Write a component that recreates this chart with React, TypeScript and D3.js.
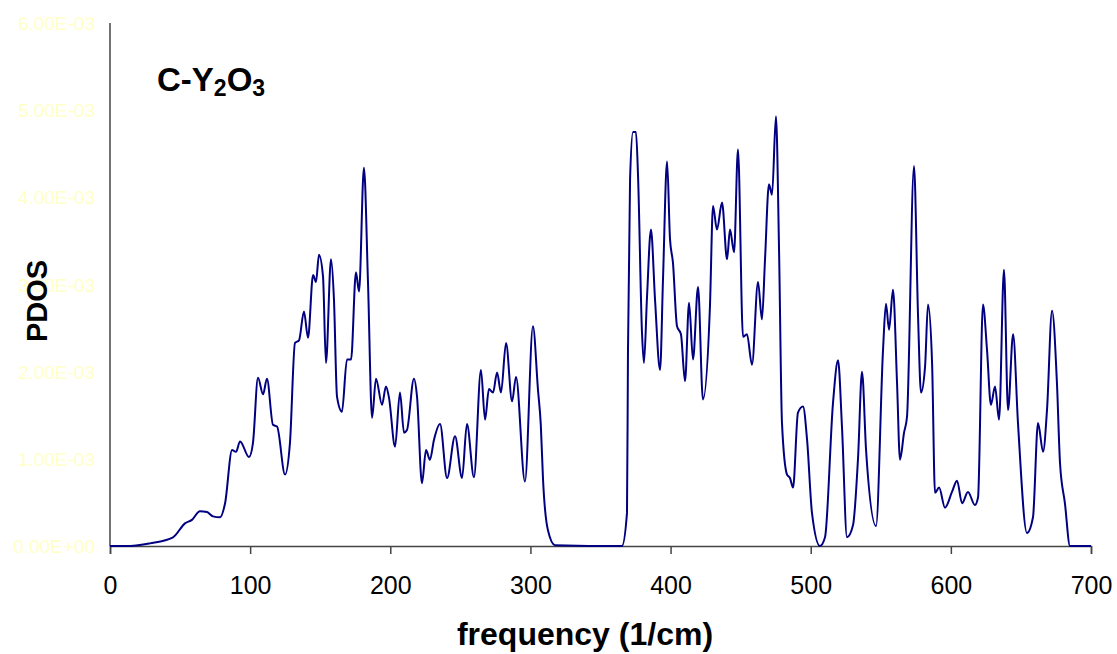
import React, { useEffect, useRef } from 'react';
import * as d3 from 'd3';

// frequency (1/cm) and PDOS values
const frequency = [
  0, 14.3, 28.5, 45.0, 53.5, 58.5, 64.2, 69.2, 73.5, 78.5, 82.1, 87.1, 89.9, 92.8, 99.2,
  102.0, 105.6, 109.2, 112.0, 116.3, 119.2, 124.9, 128.4, 132.0, 134.9, 138.4, 141.3,
  144.9, 147.0, 149.1, 152.0, 154.1, 157.7, 159.8, 162.0, 165.5, 169.1, 172.0, 175.5,
  177.7, 181.2, 184.1, 187.0, 189.8, 194.1, 196.9, 199.1, 203.4, 206.9, 209.8, 211.9,
  216.9, 219.1, 222.6, 225.5, 228.3, 231.2, 235.5, 240.5, 246.2, 251.2, 254.7, 259.7,
  264.7, 267.6, 270.4, 273.3, 276.2, 279.0, 282.6, 286.9, 289.7, 296.1, 301.8, 305.4,
  307.4, 309.0, 312.5, 317.5, 365.3, 368.9, 369.6, 371.1, 373.2, 375.3, 376.8, 379.6,
  381.0, 383.2, 386.0, 388.9, 392.5, 394.6, 397.5, 399.6, 401.7, 404.6, 407.4, 410.3,
  413.2, 416.0, 419.6, 423.1, 428.1, 430.3, 433.1, 436.7, 440.3, 442.4, 445.3, 448.1,
  451.7, 454.5, 458.1, 462.4, 465.2, 467.4, 470.2, 472.4, 475.2, 477.4, 479.5, 483.1,
  485.2, 487.4, 490.9, 494.5, 497.4, 500.9, 506.6, 510.2, 515.9, 519.5, 522.3, 525.9,
  530.2, 533.8, 536.6, 539.5, 546.6, 551.6, 553.7, 555.9, 558.7, 561.6, 563.7, 566.6,
  568.7, 573.7, 576.6, 578.7, 581.6, 583.7, 586.6, 588.7, 591.6, 595.8, 600.8, 604.4,
  608.0, 612.2, 617.2, 619.4, 622.9, 625.8, 628.6, 631.5, 634.4, 637.9, 640.8, 644.4,
  647.9, 654.3, 658.6, 662.2, 665.8, 668.6, 672.2, 675.7, 677.9, 681.4, 685.0, 700
];

const pdos = [
  0, 0, 0.03, 0.10, 0.26, 0.30, 0.40, 0.39, 0.34, 0.33, 0.49, 1.10, 1.08, 1.20, 1.02,
  1.18, 1.93, 1.74, 1.92, 1.39, 1.37, 0.82, 1.18, 2.33, 2.36, 2.69, 2.39,
  3.11, 3.03, 3.34, 3.09, 2.10, 3.29, 2.83, 1.71, 1.54, 2.14, 2.14, 3.14,
  2.92, 4.34, 3.02, 1.47, 1.92, 1.62, 1.83, 1.70, 1.14, 1.76, 1.30, 1.33,
  1.92, 1.71, 0.72, 1.10, 0.99, 1.22, 1.40, 0.78, 1.26, 0.78, 1.40, 0.79,
  2.02, 1.45, 1.80, 1.76, 1.99, 1.76, 2.33, 1.66, 1.94, 0.74, 2.52, 1.79,
  1.39, 0.76, 0.18, 0.01, 0, 0.38, 2.22, 4.21, 4.75, 4.75, 4.24, 2.45,
  2.10, 2.86, 3.63, 2.83, 2.02, 3.06, 4.41, 3.52, 3.25, 2.52, 2.43, 1.89,
  2.79, 2.14, 2.97, 1.68, 2.75, 3.90, 3.63, 3.94, 3.29, 3.63, 3.37, 4.55,
  2.40, 2.43, 2.08, 3.03, 2.60, 3.29, 4.15, 4.03, 4.93, 3.40, 1.41, 0.82,
  0.78, 0.67, 1.53, 1.60, 1.22, 0.38, 0.00, 0.10, 1.64, 2.13, 1.37, 0.10,
  0.24, 1.02, 2.00, 1.10, 0.23, 2.25, 2.78, 2.48, 2.94, 1.87, 0.99, 1.30,
  1.48, 4.36, 2.63, 1.76, 2.06, 2.77, 2.10, 0.61, 0.67, 0.44, 0.62, 0.75,
  0.49, 0.62, 0.47, 0.56, 2.77, 2.25, 1.62, 1.83, 1.45, 3.17, 1.56, 2.43,
  1.41, 0.15, 0.33, 1.41, 1.08, 1.56, 2.70, 1.87, 0.95, 0.49, 0, 0
].map((v) => v * 1e-3);

const xTicks = [0, 100, 200, 300, 400, 500, 600, 700];
const yTicks = [0, 0.001, 0.002, 0.003, 0.004, 0.005, 0.006];
const yTickLabels = ['0.00E+00', '1.00E-03', '2.00E-03', '3.00E-03', '4.00E-03', '5.00E-03', '6.00E-03'];

const W = 1117;
const H = 654;
const left = 110;
const right = 1091;
const top = 23;
const bottom = 546;
const font = 'Liberation Sans, Arial, sans-serif';

const App = () => {
  const svgRef = useRef(null);

  useEffect(() => {
    const svg = d3.select(svgRef.current);
    svg.selectAll('*').remove();

    const x = d3.scaleLinear().domain([0, 700]).range([left, right]);
    const y = d3.scaleLinear().domain([0, 0.006]).range([bottom, top]);

    // y tick labels (very pale in the original)
    svg.append('g')
      .selectAll('text')
      .data(yTicks)
      .enter()
      .append('text')
      .attr('x', 95)
      .attr('y', (d) => y(d) + 7)
      .attr('text-anchor', 'end')
      .attr('font-family', font)
      .attr('font-size', 19)
      .attr('fill', '#ffffc8')
      .text((d, i) => yTickLabels[i]);

    // x axis
    const xAxis = svg.append('g')
      .attr('transform', 'translate(0,' + bottom + ')')
      .call(d3.axisBottom(x).tickValues(xTicks).tickSize(8).tickFormat(d3.format('d')));
    xAxis.select('.domain').attr('stroke', '#444').attr('stroke-width', 1.5);
    xAxis.selectAll('.tick line').attr('stroke', '#444').attr('stroke-width', 1.5);
    xAxis.selectAll('.tick text')
      .attr('font-family', font)
      .attr('font-size', 25)
      .attr('fill', '#000')
      .attr('y', 48)
      .attr('dy', 0);

    // y axis line
    svg.append('line')
      .attr('x1', left).attr('x2', left)
      .attr('y1', top).attr('y2', bottom)
      .attr('stroke', '#444')
      .attr('stroke-width', 1.5);

    const line = d3.line()
      .x((d, i) => x(frequency[i]))
      .y((d) => y(d))
      .curve(d3.curveMonotoneX);

    svg.append('path')
      .datum(pdos)
      .attr('fill', 'none')
      .attr('stroke', '#000080')
      .attr('stroke-width', 2)
      .attr('d', line);

    // title
    const title = svg.append('text')
      .attr('x', 157)
      .attr('y', 91)
      .attr('font-family', font)
      .attr('font-weight', 'bold')
      .attr('font-size', 33)
      .attr('fill', '#000');
    title.append('tspan').text('C-Y');
    title.append('tspan').attr('font-size', 23).attr('dy', 5).text('2');
    title.append('tspan').attr('dy', -5).text('O');
    title.append('tspan').attr('font-size', 23).attr('dy', 5).text('3');

    svg.append('text')
      .attr('x', 585)
      .attr('y', 645)
      .attr('text-anchor', 'middle')
      .attr('font-family', font)
      .attr('font-weight', 'bold')
      .attr('font-size', 32)
      .text('frequency (1/cm)');

    svg.append('text')
      .attr('transform', 'translate(47,301) rotate(-90)')
      .attr('text-anchor', 'middle')
      .attr('font-family', font)
      .attr('font-weight', 'bold')
      .attr('font-size', 29)
      .text('PDOS');
  }, []);

  return (
    <svg ref={svgRef} width={W} height={H} style={{ position: 'absolute', left: 0, top: 0, background: '#fff' }} />
  );
};

export default App;
